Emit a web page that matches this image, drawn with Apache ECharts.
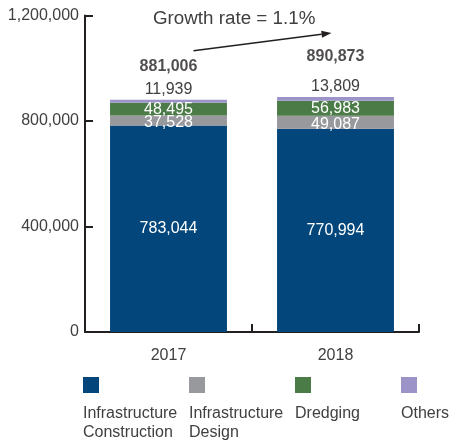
<!DOCTYPE html>
<html>
<head>
<meta charset="utf-8">
<script src="https://cdn.jsdelivr.net/npm/echarts@6/dist/echarts.min.js"></script>
<style>
  html, body { margin: 0; padding: 0; background: #fff; }
  #chart { width: 451px; height: 443px; }
</style>
</head>
<body>
<div id="chart"></div>
<script>
// Order book by segment, 2017 vs 2018
const categories = ['2017', '2018'];
const seriesNames = ['Infrastructure Construction', 'Infrastructure Design', 'Dredging', 'Others'];
const construction = [783044, 770994];
const design = [37528, 49087];
const dredging = [48495, 56983];
const others = [11939, 13809];
const totals = [881006, 890873];
const yTicks = [0, 400000, 800000, 1200000];
const growthText = 'Growth rate = 1.1%';

const colors = ['#02467b', '#98999d', '#4b7b46', '#9c94c8'];
const FONT = '"Liberation Sans", Arial, Helvetica, sans-serif';
const AXIS_COLOR = '#231f20';
const TEXT_COLOR = '#404040';
const FS = 16;
const fmt = v => v.toLocaleString('en-US');

// how far each total sits above its bar
const totalLift = [25, 32];

const chart = echarts.init(document.getElementById('chart'), null, { renderer: 'canvas' });

const values = [construction, design, dredging, others];
const barSeries = values.map((arr, i) => ({
  name: seriesNames[i],
  type: 'bar',
  stack: 'total',
  barWidth: '70%',
  itemStyle: { color: colors[i] },
  data: arr,
  label: i === 3 ? {
    show: true, position: 'top', distance: 2,
    color: TEXT_COLOR, fontFamily: FONT, fontSize: FS,
    formatter: p => fmt(p.value)
  } : {
    show: true, position: 'inside',
    color: '#ffffff', fontFamily: FONT, fontSize: FS,
    offset: i === 1 ? [0, 2] : [0, 0],
    formatter: p => fmt(p.value)
  },
  emphasis: { disabled: true },
  z: 2
}));

const totalSeries = {
  name: 'Total',
  type: 'scatter',
  symbolSize: 0,
  data: totals.map((v, i) => ({
    value: [categories[i], v],
    label: { distance: totalLift[i] }
  })),
  label: {
    show: true, position: 'top',
    color: '#231f20', fontFamily: FONT, fontSize: 16, fontWeight: 'bold',
    formatter: p => fmt(p.value[1])
  },
  emphasis: { disabled: true },
  z: 5
};

chart.setOption({
  animation: false,
  title: {
    text: growthText,
    left: 148, top: 4,
    textStyle: { fontFamily: FONT, fontSize: 18.8, fontWeight: 'normal', color: TEXT_COLOR }
  },
  grid: { left: 85, right: 32, top: 15.5, bottom: 111, containLabel: false },
  xAxis: {
    type: 'category',
    data: categories,
    axisLine: { show: true, lineStyle: { color: AXIS_COLOR, width: 2 } },
    axisTick: { show: true, inside: true, length: 8, alignWithLabel: false, lineStyle: { color: AXIS_COLOR, width: 2 } },
    axisLabel: { margin: 16, color: TEXT_COLOR, fontFamily: FONT, fontSize: FS },
    splitLine: { show: false }
  },
  yAxis: {
    type: 'value',
    min: yTicks[0],
    max: yTicks[yTicks.length - 1],
    interval: yTicks[1] - yTicks[0],
    axisLine: { show: true, lineStyle: { color: AXIS_COLOR, width: 2 } },
    axisTick: { show: true, inside: true, length: 8, lineStyle: { color: AXIS_COLOR, width: 2 } },
    axisLabel: { margin: 6, color: TEXT_COLOR, fontFamily: FONT, fontSize: FS, formatter: v => fmt(v) },
    splitLine: { show: false }
  },
  series: [...barSeries, totalSeries]
});

// Growth arrow between the two totals, plus the legend (swatch above name)
const p0 = chart.convertToPixel({ gridIndex: 0 }, [categories[0], totals[0]]);
const p1 = chart.convertToPixel({ gridIndex: 0 }, [categories[1], totals[1]]);
const a = [p0[0] + 25, p0[1] - 49];
const b = [p1[0] - 4, p1[1] - 64];
const ang = Math.atan2(b[1] - a[1], b[0] - a[0]);
const headLen = 10, headHalf = 3.5;
const ux = Math.cos(ang), uy = Math.sin(ang);
const base = [b[0] - ux * headLen, b[1] - uy * headLen];
const head = [
  b,
  [base[0] - uy * headHalf, base[1] + ux * headHalf],
  [base[0] + uy * headHalf, base[1] - ux * headHalf]
];

const graphics = [
  { type: 'line', shape: { x1: a[0], y1: a[1], x2: base[0], y2: base[1] }, style: { stroke: AXIS_COLOR, lineWidth: 1.5 } },
  { type: 'polygon', shape: { points: head }, style: { fill: AXIS_COLOR } }
];

const legendLeft = 83, legendStep = 106, legendTop = 377, swatch = 16;
seriesNames.forEach((name, i) => {
  const x = legendLeft + legendStep * i;
  graphics.push({ type: 'rect', shape: { x: x, y: legendTop, width: swatch, height: swatch }, style: { fill: colors[i] } });
  graphics.push({
    type: 'text', x: x, y: legendTop + 27,
    style: { text: name.replace(/ /g, '\n'), fill: TEXT_COLOR, font: FS + 'px ' + FONT, lineHeight: 19, verticalAlign: 'top' }
  });
});

chart.setOption({ graphic: graphics });
</script>
</body>
</html>
